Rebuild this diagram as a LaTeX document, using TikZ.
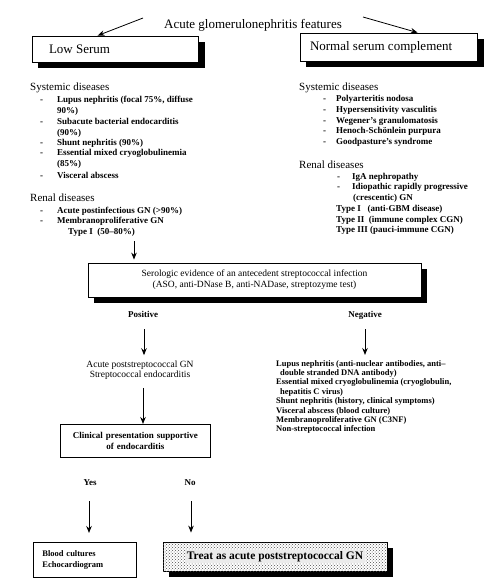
\documentclass[tikz,border=0pt]{standalone}
\usepackage{fontspec}
\setmainfont{Liberation Serif}
\usetikzlibrary{arrows.meta,patterns}

\begin{document}
\begin{tikzpicture}[x=1pt,y=-1pt,
  arr/.style={-{Stealth[length=7pt,width=5.5pt]},line width=1pt},
  head/.style={anchor=west,inner sep=0pt,font=\fontsize{11}{13}\selectfont},
  item/.style={anchor=west,inner sep=0pt,text height=6.5pt,text depth=2pt,
    font=\fontsize{9}{10.7}\selectfont\bfseries},
  bigbox/.style={draw,line width=0.8pt,anchor=north west,fill=white},
  plainbox/.style={draw,line width=0.8pt,anchor=north west},
  shadowbox/.style={fill=black}]

% Define the size of the page
\useasboundingbox (0,0) rectangle (500,588);

% Shadows of the boxes (black rectangles offset by 6 right and down)
\path[shadowbox] (38,42) rectangle (205,68);
\path[shadowbox] (306,39) rectangle (484,67);
\path[shadowbox] (94,269) rectangle (427,303);
\path[shadowbox] (169,548) rectangle (393,577);

% Title and the two branches
\node[font=\fontsize{13}{15}\selectfont,inner sep=0pt] (title) at (253,25) {Acute glomerulonephritis features};
\coordinate (tl) at (143,18);
\coordinate (tr) at (363,17);

\node[draw,line width=0.8pt,fill=white,inner sep=0pt] (low) at (115,49)
  {\parbox[c][26pt][c]{166pt}{\hspace*{17pt}\fontsize{13}{15}\selectfont Low Serum}};
\node[draw,line width=0.8pt,fill=white,inner sep=0pt] (normal) at (388.5,47)
  {\parbox[c][28pt][c]{177pt}{\hspace*{10pt}\fontsize{13}{15}\selectfont Normal serum complement}};

\draw[arr,line width=0.8pt] (tl) -- ([xshift=66pt]low.north west);
\draw[arr,line width=0.8pt] (tr) -- ([xshift=118pt]normal.north west);

% Low serum: systemic diseases
\node[head] (lsys) at (30,88) {Systemic diseases};
\foreach \y/\t [count=\i] in {100/{Lupus nephritis (focal 75\%, diffuse}, 111/{90\%)},
  122/{Subacute bacterial endocarditis}, 133/{(90\%)}, 143/{Shunt nephritis (90\%)},
  153/{Essential mixed cryoglobulinemia}, 164/{(85\%)}, 176/{Visceral abscess}}
  \node[item] (ls\i) at (57,\y) {\t};
\foreach \y [count=\i] in {100,122,143,153,176}
  \node[item] (lsd\i) at (40,\y) {-};

% Low serum: renal diseases
\node[head] (lren) at (30,198) {Renal diseases};
\node[item] (lr1) at (57,211) {Acute postinfectious GN (>90\%)};
\node[item] (lr2) at (57,221) {Membranoproliferative GN};
\node[item] (lr3) at (68,232) {Type I\enspace(50--80\%)};
\foreach \y [count=\i] in {211,221}
  \node[item] (lrd\i) at (40,\y) {-};

% Normal serum: systemic diseases
\node[head] (rsys) at (299,88) {Systemic diseases};
\foreach \y/\t [count=\i] in {99/{Polyarteritis nodosa}, 110/{Hypersensitivity vasculitis},
  121/{Wegener's granulomatosis}, 131/{Henoch-Schönlein purpura}, 142/{Goodpasture's syndrome}}
{
  \node[item] (rs\i) at (336,\y) {\t};
  \node[item] (rsd\i) at (323,\y) {-};
}

% Normal serum: renal diseases
\node[head] (rren) at (299,165) {Renal diseases};
\node[item] (rr1) at (352,177) {IgA nephropathy};
\node[item] (rr2) at (352,187) {Idiopathic rapidly progressive};
\node[item] (rr3) at (353,198) {(crescentic) GN};
\foreach \y [count=\i] in {177,187}
  \node[item] (rrd\i) at (337,\y) {-};
\node[item] (rt1) at (336,209) {Type I~~~(anti-GBM disease)};
\node[item] (rt2) at (336,220) {Type II~~(immune complex CGN)};
\node[item] (rt3) at (336,230) {Type III (pauci-immune CGN)};

% Serologic test
\coordinate (sa) at (134,241);
\node[draw,line width=0.8pt,fill=white,inner sep=0pt] (sero) at (254.5,280)
  {\parbox[c][34pt][c]{333pt}{\centering\fontsize{9.5}{11}\selectfont
   Serologic evidence of an antecedent streptococcal infection\\(ASO, anti-DNase B, anti-NADase, streptozyme test)}};
\draw[arr,shorten >=3pt] (sa) -- (sa |- sero.north);

\node[item,anchor=center] (pos) at (143,315) {Positive};
\node[item,anchor=center] (neg) at (365,315) {Negative};

% Positive branch
\node[align=center,inner sep=0pt,font=\fontsize{9.5}{10.5}\selectfont] (apsgn) at (140,370)
  {Acute poststreptococcal GN\\Streptococcal endocarditis};
\draw[arr] ([yshift=-10pt]pos.south -| 144,0) -- ([yshift=5pt]apsgn.north -| 144,0);

\node[plainbox,minimum width=150,minimum height=33,text width=140pt,align=center,
  font=\fontsize{9}{10.5}\selectfont\bfseries] (clin) at (60,424)
  {Clinical presentation supportive\\of endocarditis};
\draw[arr,shorten <=8pt] (apsgn.south -| 143,0) -- (clin.north -| 143,0);

\node[item,anchor=center] (yes) at (90,483) {Yes};
\node[item,anchor=center] (no) at (190,483) {No};

\node[plainbox,minimum width=103,minimum height=35,inner xsep=9pt,text width=85pt,align=left,
  font=\fontsize{8.5}{11}\selectfont\bfseries] (blood) at (33,542) {Blood cultures\\Echocardiogram};
\node[draw,line width=0.8pt,fill=white,inner sep=0pt,
  postaction={pattern=crosshatch dots,pattern color=black!70}] (treat) at (275,556.5)
  {\parbox[c][29pt][c]{224pt}{\strut}};
\node[fill=black!8,inner sep=1.5pt,
  font=\fontsize{11.5}{13}\selectfont\bfseries] (treattxt) at (treat.center) {Treat as acute poststreptococcal GN};

\draw[arr] ([yshift=-14pt]yes.south -| 89,0) -- ([yshift=9pt]blood.north -| 89,0);
\draw[arr] ([yshift=-14pt]no.south -| 191,0) -- ([yshift=9pt]treat.north -| 191,0);

% Negative branch
\node[anchor=north west,inner sep=0pt,align=left,font=\fontsize{8.5}{9.4}\selectfont\bfseries] (neglist) at (276,360)
  {Lupus nephritis (anti-nuclear antibodies, anti--\\
   \hspace*{4pt}double stranded DNA antibody)\\
   Essential mixed cryoglobulinemia (cryoglobulin,\\
   \hspace*{4pt}hepatitis C virus)\\
   Shunt nephritis (history, clinical symptoms)\\
   Visceral abscess (blood culture)\\
   Membranoproliferative GN (C3NF)\\
   Non-streptococcal infection};
\draw[arr] ([yshift=-10pt]neg.south -| 365,0) -- ([yshift=5pt]neglist.north -| 365,0);

\end{tikzpicture}
\end{document}
